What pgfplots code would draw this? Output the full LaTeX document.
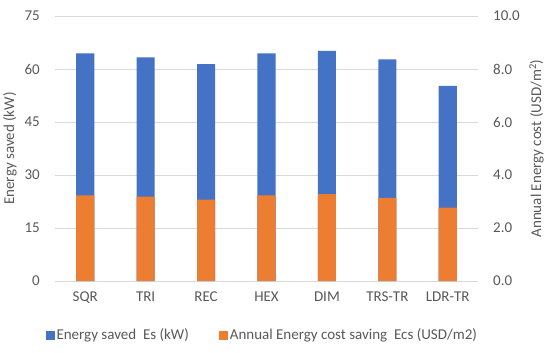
\documentclass[border=0pt]{standalone}
\usepackage{pgfplots}
\pgfplotsset{compat=1.18}
\usepackage{fontspec}
\setmainfont{Carlito}
\definecolor{eblue}{HTML}{4472C4}
\definecolor{eorange}{HTML}{ED7D31}
\definecolor{txt}{HTML}{595959}
\definecolor{grid}{HTML}{D9D9D9}
\begin{document}
\fontsize{15bp}{18bp}\selectfont
\begin{tikzpicture}
\pgfplotsset{
  base/.style={
    scale only axis, width=423bp, height=265bp,
    xmin=-0.5, xmax=6.5, ymin=0,
    ybar, bar width=0.3, bar shift=0pt,
    axis line style={draw=none},
    major tick length=0pt,
    tick label style={text=txt, font=\fontsize{15bp}{18bp}\selectfont},
    label style={text=txt, font=\fontsize{15bp}{18bp}\selectfont, inner sep=1bp},
    /pgf/number format/assume math mode=true,
  }
}
\begin{axis}[base, name=ax1,
  ymax=75, ytick={0,15,30,45,60,75},
  ymajorgrids, grid style={draw=grid, line width=0.8pt},
  xtick={0,...,6},
  xticklabels={SQR,TRI,REC,HEX,DIM,TRS-TR,LDR-TR},
  ylabel={Energy saved (kW)},
  ylabel style={at={(axis description cs:0,0.5)}, anchor=south, yshift=37bp},
  xticklabel style={yshift=-6bp},
  yticklabel style={xshift=-10bp},
  legend style={at={(0.49,-0.205)}, anchor=center, draw=none, legend columns=2,
    font=\fontsize{15bp}{18bp}\selectfont, text=txt,
    /tikz/every even column/.append style={column sep=28bp}},
  legend image code/.code={\fill[#1] (0bp,-4.5bp) rectangle (9bp,4.5bp);},
]
\draw[grid, line width=0.8pt] (axis cs:-0.5,0) -- (axis cs:6.5,0);
\addplot[fill=eblue, draw=none] coordinates {(0,64.4) (1,63.3) (2,61.4) (3,64.4) (4,65.1) (5,62.7) (6,55.2)};
\addlegendentry{Energy saved\ \ Es (kW)}
\addlegendimage{fill=eorange, draw=none}
\addlegendentry{Annual Energy cost saving\ \ Ecs (USD/m2)}
\end{axis}
\begin{axis}[base,
  ymax=10, ytick={0,2,4,6,8,10},
  axis y line*=right, axis x line=none,
  yticklabel style={/pgf/number format/fixed, /pgf/number format/fixed zerofill, /pgf/number format/precision=1, xshift=10bp},
  ylabel={Annual Energy cost (USD/m\textsuperscript{2})},
  ylabel style={at={(axis description cs:1,0.5)}, anchor=north, rotate=0, yshift=-50bp},
]
\addplot[fill=eorange, draw=none] coordinates {(0,3.23) (1,3.18) (2,3.07) (3,3.23) (4,3.28) (5,3.14) (6,2.77)};
\end{axis}
\path (ax1.south west) ++(-55bp,-72bp) rectangle ++(550bp,353bp);
\end{tikzpicture}
\end{document}
